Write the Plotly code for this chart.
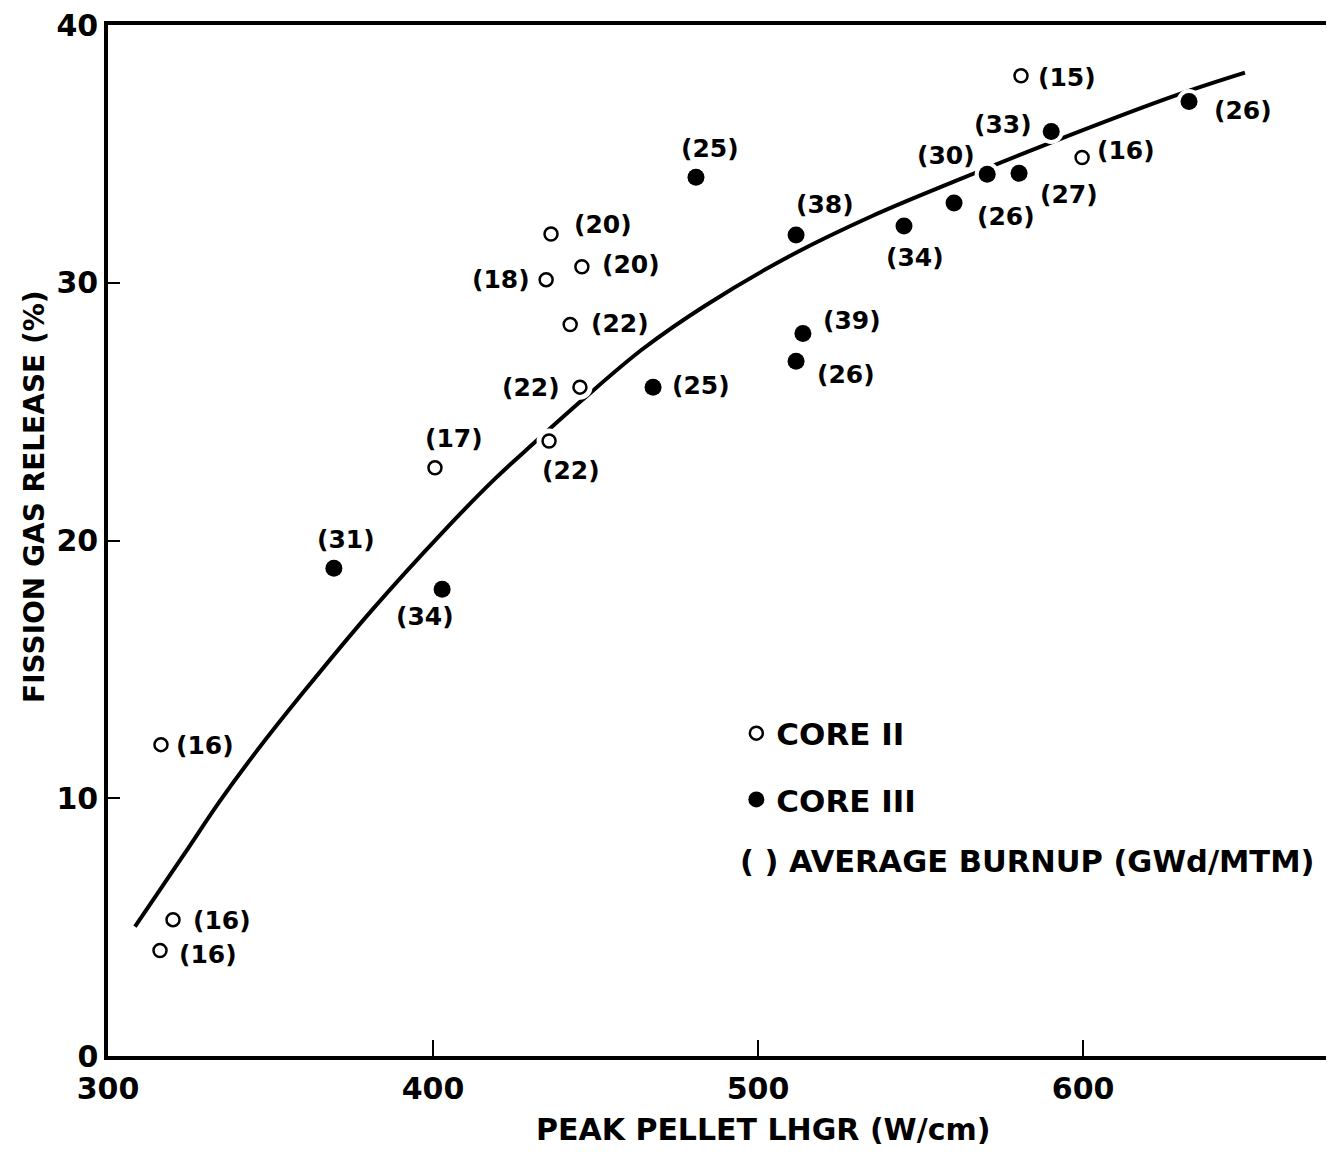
import plotly.graph_objects as go

# ---------------- data ----------------
core2_lhgr = [580.9, 599.7, 436.3, 445.8, 434.8, 442.2, 445.2, 435.7, 400.6, 316.3, 320.0, 316.0]
core2_fgr = [38.03, 34.86, 31.89, 30.62, 30.12, 28.38, 25.95, 23.86, 22.82, 12.08, 5.29, 4.09]
core2_burnup = ["(15)", "(16)", "(20)", "(20)", "(18)", "(22)", "(22)", "(22)", "(17)", "(16)", "(16)", "(16)"]

core3_lhgr = [632.6, 590.2, 570.5, 580.3, 480.9, 560.3, 544.9, 511.7, 513.8, 511.7, 467.7, 369.5, 402.8]
core3_fgr = [37.03, 35.87, 34.21, 34.25, 34.09, 33.09, 32.20, 31.85, 28.03, 26.95, 25.95, 18.92, 18.11]
core3_burnup = ["(26)", "(33)", "(30)", "(27)", "(25)", "(26)", "(34)", "(38)", "(39)", "(26)", "(25)", "(31)", "(34)"]

curve_lhgr = [308.3, 323.7, 334.2, 345.2, 359.7, 381.2, 402.8, 419.1, 431.4, 445.8,
              464.3, 483.7, 509.5, 535.1, 560.6, 589.5, 628.3, 649.8]
curve_fgr = [5.02, 7.88, 9.85, 11.74, 14.05, 17.30, 20.30, 22.40, 23.82, 25.44,
             27.41, 29.11, 31.02, 32.59, 33.94, 35.41, 37.26, 38.15]

x_ticks = [300, 400, 500, 600]
y_ticks = [0, 10, 20, 30, 40]

# ---------------- label placement (anchor, xshift px, yshift px) ----------------
core2_label_pos = [("left", 15, -2), ("left", 13, 7), ("left", 21, 10), ("left", 18, 2),
                   ("right", -14, 0), ("left", 19, 1), ("right", -18, 0), ("center", 22, -29),
                   ("center", 19, 29), ("left", 13, -1), ("left", 18, -1), ("left", 17, -4)]
core3_label_pos = [("left", 23, -9), ("right", -17, 7), ("right", -10, 19), ("left", 19, -21),
                   ("center", 14, 29), ("left", 21, -13), ("center", 11, -31), ("center", 29, 31),
                   ("left", 18, 13), ("left", 19, -13), ("left", 17, 2), ("center", 12, 29),
                   ("center", -17, -27)]

FONT = "DejaVu Sans"
BLACK = "#000000"

fig = go.Figure()

# fitted curve
fig.add_trace(go.Scatter(
    x=curve_lhgr, y=curve_fgr, mode="lines",
    line=dict(color=BLACK, width=4, shape="spline", smoothing=1.0),
    showlegend=False, hoverinfo="skip"))

# white halo that breaks the curve around the symbols
fig.add_trace(go.Scatter(
    x=core2_lhgr + core3_lhgr, y=core2_fgr + core3_fgr, mode="markers",
    marker=dict(color="white", size=25, line=dict(width=0)),
    showlegend=False, hoverinfo="skip"))

fig.add_trace(go.Scatter(
    x=core2_lhgr, y=core2_fgr, mode="markers", name="CORE II",
    legendgroup="g1",
    marker=dict(symbol="circle-open", color=BLACK, size=13, line=dict(width=2.5, color=BLACK))))

fig.add_trace(go.Scatter(
    x=core3_lhgr, y=core3_fgr, mode="markers", name="CORE III",
    legendgroup="g2",
    marker=dict(symbol="circle", color=BLACK, size=17, line=dict(width=0))))

annotations = []
for xs, ys, labels, pos in [(core2_lhgr, core2_fgr, core2_burnup, core2_label_pos),
                            (core3_lhgr, core3_fgr, core3_burnup, core3_label_pos)]:
    for x, y, t, (anc, dx, dy) in zip(xs, ys, labels, pos):
        annotations.append(dict(
            x=x, y=y, xref="x", yref="y", text=t, showarrow=False,
            xanchor=anc, yanchor="middle", xshift=dx, yshift=dy,
            font=dict(family=FONT, size=25, color=BLACK, weight="bold")))

# third legend line
annotations.append(dict(
    x=0.514, y=0.189, xref="paper", yref="paper", text="( ) AVERAGE BURNUP (GWd/MTM)",
    showarrow=False, xanchor="left", yanchor="middle",
    font=dict(family=FONT, size=30.5, color=BLACK, weight="bold")))

# axis titles
annotations.append(dict(
    x=0.534, y=-0.0715, xref="paper", yref="paper", text="PEAK PELLET LHGR (W/cm)",
    showarrow=False, xanchor="center", yanchor="middle",
    font=dict(family=FONT, size=30, color=BLACK, weight="bold")))
annotations.append(dict(
    x=-0.0605, y=0.543, xref="paper", yref="paper", text="FISSION GAS RELEASE (%)",
    showarrow=False, xanchor="center", yanchor="middle", textangle=-90,
    font=dict(family=FONT, size=28, color=BLACK, weight="bold")))

fig.update_layout(
    width=1334, height=1156,
    margin=dict(l=100, r=8, t=17, b=108, autoexpand=False),
    paper_bgcolor="white", plot_bgcolor="white",
    annotations=annotations,
    showlegend=True,
    legend=dict(x=0.5125, y=0.339, xanchor="left", yanchor="top",
                font=dict(family=FONT, size=31, color=BLACK, weight="bold"),
                bgcolor="rgba(0,0,0,0)", borderwidth=0, tracegroupgap=23,
                itemsizing="trace"),
    xaxis=dict(range=[300, 677.2], tickvals=x_ticks, ticktext=[str(v) for v in x_ticks],
               showgrid=False, zeroline=False, showline=True, linecolor=BLACK, linewidth=3.5,
               mirror=True, ticks="inside", ticklen=16, tickwidth=2, tickcolor=BLACK,
               tickfont=dict(family=FONT, size=30, color=BLACK, weight="bold"),
               ticklabelstandoff=3, ticklabeloverflow="allow", automargin=False),
    yaxis=dict(range=[0, 40], tickvals=y_ticks, ticktext=[str(v) for v in y_ticks],
               showgrid=False, zeroline=False, showline=True, linecolor=BLACK, linewidth=3.5,
               ticks="inside", ticklen=12, tickwidth=2, tickcolor=BLACK,
               tickfont=dict(family=FONT, size=30, color=BLACK, weight="bold"),
               ticklabelstandoff=0, ticklabeloverflow="allow", automargin=False),
)

fig.write_html("out.html")
